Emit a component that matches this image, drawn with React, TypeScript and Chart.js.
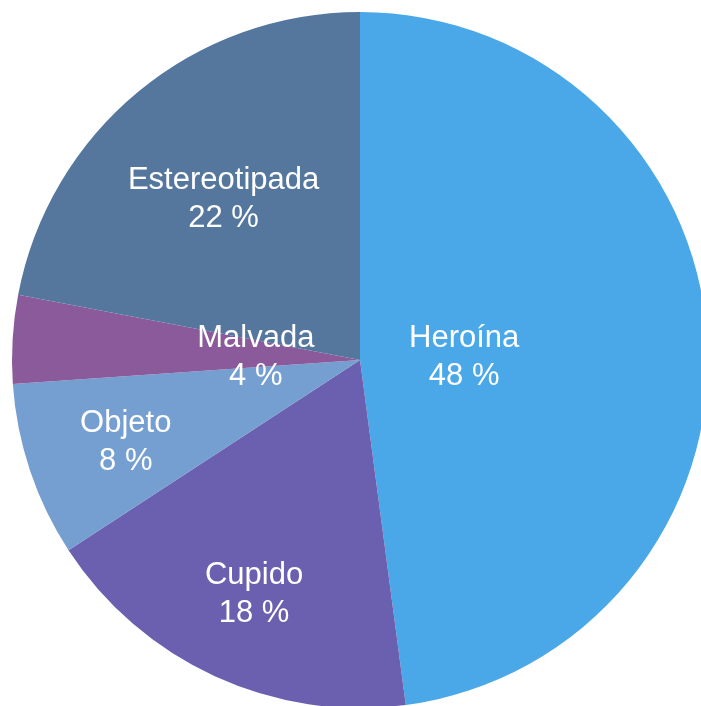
import React, { useEffect, useRef } from "react";
import { Chart, registerables } from "chart.js";

Chart.register(...registerables);

const categories = ["Heroína", "Cupido", "Objeto", "Malvada", "Estereotipada"];
const values = [47.9, 17.9, 8.1, 4.1, 22.0];
const percentLabels = ["48 %", "18 %", "8 %", "4 %", "22 %"];
const colors = ["#4BA8E8", "#6B5FAF", "#759FD0", "#8A5A9A", "#55779E"];

const labelPlugin = {
  id: "sliceLabels",
  afterDatasetsDraw(chart: any, _args: any, opts: any) {
    const ctx = chart.ctx;
    const meta = chart.getDatasetMeta(0);
    const fracs: number[] = opts.radiusFractions || [];
    ctx.save();
    ctx.fillStyle = "#ffffff";
    ctx.font = "31px 'Liberation Sans', Arial, sans-serif";
    ctx.textAlign = "center";
    ctx.textBaseline = "middle";
    meta.data.forEach((arc: any, i: number) => {
      const p = arc.getProps(["x", "y", "startAngle", "endAngle", "outerRadius"], true);
      const mid = (p.startAngle + p.endAngle) / 2;
      const r = p.outerRadius * (fracs[i] ?? 0.5);
      const cx = p.x + Math.cos(mid) * r;
      const cy = p.y + Math.sin(mid) * r;
      ctx.fillText(categories[i], cx, cy - 15);
      ctx.fillText(percentLabels[i], cx, cy + 23);
    });
    ctx.restore();
  },
};

export default function App() {
  const ref = useRef<HTMLCanvasElement | null>(null);
  useEffect(() => {
    document.body.style.margin = "0";
    document.body.style.overflow = "hidden";
    const chart = new Chart(ref.current as HTMLCanvasElement, {
      type: "pie",
      data: {
        labels: categories,
        datasets: [
          {
            data: values,
            backgroundColor: colors,
            borderWidth: 0,
          },
        ],
      },
      options: {
        responsive: false,
        animation: false,
        layout: { padding: 12 },
        plugins: {
          legend: { display: false },
          tooltip: { enabled: false },
          sliceLabels: { radiusFractions: [0.3, 0.73, 0.71, 0.3, 0.615] },
        } as any,
      },
      plugins: [labelPlugin],
    });
    return () => chart.destroy();
  }, []);
  return (
    <div style={{ position: "fixed", left: 0, top: 0, width: 701, height: 706, overflow: "hidden", background: "#fff" }}>
      <canvas ref={ref} width={720} height={720} style={{ width: 720, height: 720, display: "block" }} />
    </div>
  );
}
